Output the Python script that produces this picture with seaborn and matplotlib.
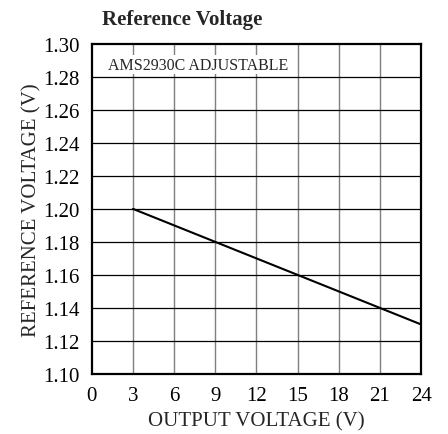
import matplotlib
matplotlib.use("Agg")
import matplotlib.pyplot as plt
import seaborn as sns
import pandas as pd

# values
output_voltage = [3, 9, 15, 21, 24]
reference_voltage = [1.200, 1.180, 1.160, 1.140, 1.130]

x_ticks = [0, 3, 6, 9, 12, 15, 18, 21, 24]
y_ticks = [1.10, 1.12, 1.14, 1.16, 1.18, 1.20, 1.22, 1.24, 1.26, 1.28, 1.30]

df = pd.DataFrame({"vout": output_voltage, "vref": reference_voltage})

sns.set_style("white")
plt.rcParams["font.family"] = ["Liberation Serif", "DejaVu Serif"]

fig = plt.figure(figsize=(4.48, 4.35), dpi=100)
ax = fig.add_axes([0.205, 0.138, 0.735, 0.759])

sns.lineplot(data=df, x="vout", y="vref", ax=ax, color="black", linewidth=1.5)

ax.set_xlim(0, 24)
ax.set_ylim(1.10, 1.30)
ax.set_xticks(x_ticks)
ax.set_yticks(y_ticks)
ax.set_xticklabels([str(t) for t in x_ticks])
ax.set_yticklabels([f"{t:.2f}" for t in y_ticks])
ax.tick_params(axis="both", length=0, labelsize=15, colors="black")
ax.tick_params(axis="y", pad=9)
ax.tick_params(axis="x", pad=9)

# vertical grid gray, horizontal grid black
for t in x_ticks[1:-1]:
    ax.axvline(t, color="#7f7f7f", linewidth=1.0, zorder=0)
for t in y_ticks[1:-1]:
    ax.axhline(t, color="black", linewidth=0.9, zorder=0)

for s in ax.spines.values():
    s.set_linewidth(1.6)
    s.set_color("black")

ax.set_xlabel("OUTPUT VOLTAGE (V)", fontsize=15, labelpad=4)
ax.set_ylabel("REFERENCE VOLTAGE (V)", fontsize=15, labelpad=1)

ax.text(1.17, 1.2848, "AMS2930C ADJUSTABLE", fontsize=11.5, va="baseline", ha="left",
        bbox=dict(facecolor="white", edgecolor="none", pad=1.0), zorder=3)

fig.text(102 / 448, 1 - 20 / 435, "Reference Voltage", fontsize=15,
         fontweight="bold", ha="left", va="center")

fig.savefig("out.png", dpi=100)
